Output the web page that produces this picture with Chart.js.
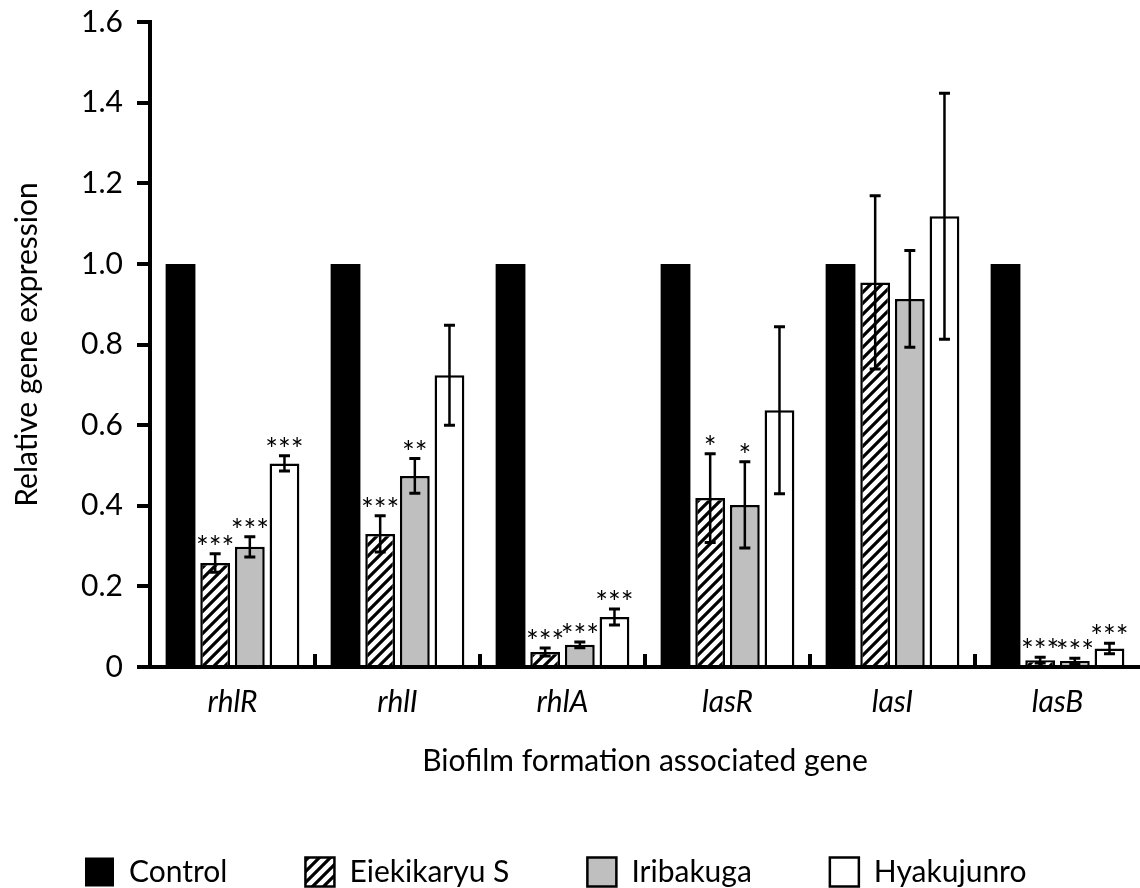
<!DOCTYPE html>
<html>
<head>
<meta charset="utf-8">
<title>Relative gene expression</title>
<script src="https://cdn.jsdelivr.net/npm/chart.js@4.4.1/dist/chart.umd.min.js"></script>
<style>
  html, body { margin: 0; padding: 0; background: #fff; overflow: hidden; }
  canvas { display: block; }
</style>
</head>
<body>
<canvas id="gene-chart" width="1140" height="888"></canvas>
<script>
/* biofilm gene expression — grouped bars with error bars */
const GENES = ["rhlR", "rhlI", "rhlA", "lasR", "lasI", "lasB"];
const Y_TICK_LABELS = ["0", "0.2", "0.4", "0.6", "0.8", "1.0", "1.2", "1.4", "1.6"];

const CONTROL = [1, 1, 1, 1, 1, 1];
const EIEKIKARYU = [0.258, 0.33, 0.037, 0.419, 0.954, 0.017];
const EIEKIKARYU_ERR = [0.023, 0.045, 0.010, 0.110, 0.215, 0.007];
const EIEKIKARYU_SIG = ["***", "***", "***", "*", "", "***"];
const IRIBAKUGA = [0.298, 0.474, 0.055, 0.402, 0.913, 0.015];
const IRIBAKUGA_ERR = [0.025, 0.043, 0.007, 0.107, 0.120, 0.007];
const IRIBAKUGA_SIG = ["***", "**", "***", "*", "", "***"];
const HYAKUJUNRO = [0.505, 0.724, 0.124, 0.637, 1.118, 0.046];
const HYAKUJUNRO_ERR = [0.019, 0.124, 0.020, 0.207, 0.305, 0.013];
const HYAKUJUNRO_SIG = ["***", "", "***", "", "", "***"];

(function () {
  "use strict";

  const FONT = "Lato";
  Chart.defaults.font.family = FONT;
  Chart.defaults.color = "#000";

  function hatchPattern() {
    const size = 11;
    const c = document.createElement("canvas");
    c.width = size;
    c.height = size;
    const g = c.getContext("2d");
    g.fillStyle = "#fff";
    g.fillRect(0, 0, size, size);
    g.strokeStyle = "#000";
    g.lineWidth = 3.2;
    g.beginPath();
    g.moveTo(-2, size + 2);
    g.lineTo(size + 2, -2);
    g.moveTo(-2, 2);
    g.lineTo(2, -2);
    g.moveTo(size - 2, size + 2);
    g.lineTo(size + 2, size - 2);
    g.stroke();
    return g.createPattern(c, "repeat");
  }

  // error bars + significance stars, read from dataset.errors / dataset.stars
  const errorBars = {
    id: "errorBars",
    afterDatasetsDraw(chart) {
      const ctx = chart.ctx;
      const y = chart.scales.y;
      chart.data.datasets.forEach((ds, di) => {
        if (!ds.errors) return;
        const meta = chart.getDatasetMeta(di);
        meta.data.forEach((bar, i) => {
          const v = ds.data[i];
          const e = ds.errors[i];
          const top = y.getPixelForValue(v + e);
          const bot = y.getPixelForValue(Math.max(v - e, 0));
          ctx.save();
          ctx.strokeStyle = "#000";
          ctx.lineWidth = 2.5;
          ctx.beginPath();
          ctx.moveTo(bar.x, top);
          ctx.lineTo(bar.x, bot);
          ctx.stroke();
          ctx.lineWidth = 3;
          ctx.beginPath();
          ctx.moveTo(bar.x - 5.5, top);
          ctx.lineTo(bar.x + 5.5, top);
          ctx.moveTo(bar.x - 5.5, bot);
          ctx.lineTo(bar.x + 5.5, bot);
          ctx.stroke();
          const s = ds.stars ? ds.stars[i] : "";
          if (s) {
            ctx.fillStyle = "#000";
            ctx.font = "30px " + FONT;
            ctx.textAlign = "center";
            ctx.textBaseline = "alphabetic";
            ctx.fillText(s, bar.x, top + 4);
          }
          ctx.restore();
        });
      });
    },
  };

  // short upward tick marks at category boundaries
  const categoryTicks = {
    id: "categoryTicks",
    afterDraw(chart) {
      const ctx = chart.ctx;
      const x = chart.scales.x;
      const base = chart.chartArea.bottom;
      const n = GENES.length;
      ctx.save();
      ctx.strokeStyle = "#000";
      ctx.lineWidth = 4;
      for (let i = 1; i < n; i++) {
        const px = (x.getPixelForValue(i - 1) + x.getPixelForValue(i)) / 2;
        ctx.beginPath();
        ctx.moveTo(px, base);
        ctx.lineTo(px, base - 13);
        ctx.stroke();
      }
      ctx.restore();
    },
  };

  const common = { borderColor: "#000", borderWidth: 2.5, barPercentage: 0.86, categoryPercentage: 0.84 };

  new Chart(document.getElementById("gene-chart"), {
    type: "bar",
    data: {
      labels: GENES,
      datasets: [
        { label: "Control", data: CONTROL, backgroundColor: "#000", borderColor: "#000", borderWidth: 0, barPercentage: 0.86, categoryPercentage: 0.84 },
        { ...common, label: "Eiekikaryu S", data: EIEKIKARYU, errors: EIEKIKARYU_ERR, stars: EIEKIKARYU_SIG, backgroundColor: hatchPattern() },
        { ...common, label: "Iribakuga", data: IRIBAKUGA, errors: IRIBAKUGA_ERR, stars: IRIBAKUGA_SIG, backgroundColor: "#bfbfbf" },
        { ...common, label: "Hyakujunro", data: HYAKUJUNRO, errors: HYAKUJUNRO_ERR, stars: HYAKUJUNRO_SIG, backgroundColor: "#fff" },
      ],
    },
    options: {
      responsive: false,
      animation: false,
      devicePixelRatio: 1,
      layout: { padding: { top: 22, left: 7, right: -6, bottom: -9 } },
      plugins: {
        legend: {
          position: "bottom",
          align: "start",
          labels: {
            boxWidth: 29,
            boxHeight: 29,
            padding: 78,
            font: { size: 30 },
            color: "#000",
          },
        },
        tooltip: { enabled: false },
      },
      scales: {
        x: {
          grid: { display: false, drawTicks: false },
          border: { display: true, color: "#000", width: 4 },
          ticks: { font: { size: 30, style: "italic" }, padding: 17, color: "#000" },
          title: { display: true, text: "Biofilm formation associated gene", font: { size: 30 }, padding: { top: 0, bottom: 0 }, color: "#000" },
          afterFit(scale) { scale.height = 112; },
        },
        y: {
          min: 0,
          max: 1.6,
          ticks: {
            stepSize: 0.2,
            font: { size: 30 },
            padding: 14,
            color: "#000",
            callback: (v, i) => Y_TICK_LABELS[i],
          },
          grid: { drawOnChartArea: false, drawTicks: true, tickLength: 13, lineWidth: 4, color: "#000" },
          border: { display: true, color: "#000", width: 4 },
          title: { display: true, text: "Relative gene expression", font: { size: 30 }, padding: { top: 2, bottom: 0 }, color: "#000" },
          afterFit(scale) {
            scale.width = 143;
            scale.paddingTop = 0;
            scale.paddingBottom = 0;
          },
        },
      },
    },
    plugins: [errorBars, categoryTicks],
  });
})();
</script>
</body>
</html>
